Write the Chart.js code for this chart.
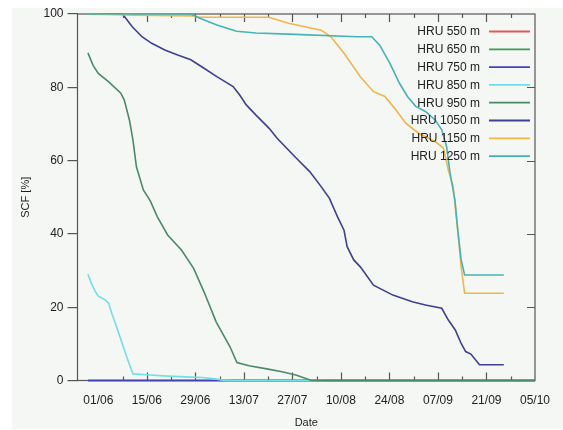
<!DOCTYPE html>
<html>
<head>
<meta charset="utf-8">
<script src="https://cdn.jsdelivr.net/npm/chart.js@4.4.1/dist/chart.umd.min.js"></script>
<style>
  html, body { margin: 0; padding: 0; background: #ffffff; }
  #wrap { width: 563px; height: 430px; position: relative; }
</style>
</head>
<body>
<div id="wrap"><canvas id="c" width="563" height="430"></canvas></div>
<script>
// x values are days counted from 01/06
const tickDays   = [0, 14, 28, 42, 56, 70, 84, 98, 112, 126];
const tickLabels = ['01/06', '15/06', '29/06', '13/07', '27/07', '10/08', '24/08', '07/09', '21/09', '05/10'];
const yTicks = [0, 20, 40, 60, 80, 100];

const seriesNames = ['HRU 550 m', 'HRU 650 m', 'HRU 750 m', 'HRU 850 m', 'HRU 950 m', 'HRU 1050 m', 'HRU 1150 m', 'HRU 1250 m'];

const zeroDays = [-3, 126];
const hru550 = [0, 0];
const hru650 = [0, 0];
const hru750 = [0, 0];

const hru850Days = [-3, -2, -1, 0, 1, 2, 3, 4, 5, 6, 7, 8, 9, 10, 12, 15, 20, 25, 30, 33, 36, 38, 65];
const hru850     = [29, 26.5, 24.5, 23, 22.5, 22, 21, 18, 15.4, 12.6, 9.8, 7, 4.3, 1.8, 1.7, 1.5, 1.2, 1.0, 0.8, 0.5, 0.1, 0, 0];

const hru950Days = [-3, -1.5, 0, 3, 6.5, 7.5, 9, 10, 11, 13, 15, 17, 20, 24, 27.5, 30.5, 34, 38, 40, 43.5, 49, 53, 57, 61.5, 126];
const hru950     = [89.4, 86, 83.8, 81.5, 78.4, 76.5, 71, 65.6, 58.3, 52, 49, 44.7, 39.7, 35.6, 30.6, 24.2, 16, 9.2, 4.9, 4.0, 3.1, 2.4, 1.5, 0, 0];

const hru1050Days = [-3, 7, 9.8, 12.6, 15.4, 19.2, 22.9, 26.7, 30.5, 34.2, 38.9, 40.8, 42.7, 45.5, 49.3, 51.6, 56.8, 61, 64.3, 66.7, 69, 70.9, 71.8, 73.7, 75.6, 79.4, 85, 90.6, 94.4, 99.1, 101, 103, 104.7, 106, 107.5, 110, 117];
const hru1050     = [100, 100, 96.5, 93.8, 92, 90.2, 88.8, 87.5, 85.2, 82.9, 80.2, 77.9, 75.2, 72.4, 68.8, 66.1, 61, 57, 52.9, 49.7, 44.7, 41, 36.5, 32.9, 31, 26, 23.3, 21.5, 20.6, 19.7, 16.5, 13.8, 10.1, 7.9, 7.2, 4.3, 4.3];

const hru1150Days = [-3, 10.7, 27.6, 28.5, 49.2, 54.9, 64.3, 67.1, 70.9, 75.6, 79.4, 82.7, 85.9, 88.7, 92.5, 97.2, 99.6, 101, 102.4, 103.8, 104.7, 105.7, 117];
const hru1150     = [100, 99.7, 99.5, 99.1, 99.1, 97.5, 95.6, 93.8, 89.3, 82.9, 78.8, 77.5, 73.8, 70.2, 67.4, 65.2, 63.4, 57.4, 52.9, 40.2, 31, 23.8, 23.8];

const hru1250Days = [-3, 26.7, 29.5, 34.2, 39.9, 45.5, 54.9, 74.6, 78.9, 81.2, 84.1, 86.9, 89.2, 91.6, 94.4, 97.2, 99.1, 100.5, 101.5, 102.9, 103.8, 104.7, 105.7, 117];
const hru1250     = [100, 100, 98.8, 97, 95.3, 94.8, 94.5, 93.8, 93.8, 91.5, 86.6, 81.1, 77.5, 74.8, 73.4, 71.1, 68.4, 63.8, 56.6, 49.2, 40.2, 32.9, 28.8, 28.8];

const colors = ['#e05a5a', '#3f9a55', '#4343b8', '#6ee0e6', '#4a8a6a', '#3f3f95', '#f2b548', '#45b3b5'];

function pts(days, vals) { return days.map((d, i) => ({ x: d, y: vals[i] })); }

const seriesData = [
  pts(zeroDays, hru550), pts(zeroDays, hru650), pts(zeroDays, hru750),
  pts(hru850Days, hru850), pts(hru950Days, hru950), pts(hru1050Days, hru1050),
  pts(hru1150Days, hru1150), pts(hru1250Days, hru1250)
];

const datasets = seriesNames.map((name, i) => ({
  label: name,
  data: seriesData[i],
  borderColor: colors[i],
  backgroundColor: colors[i],
  borderWidth: 1.6,
  pointRadius: 0,
  tension: 0,
  fill: false,
  clip: 3,
  order: seriesNames.length - i
}));

const FONT = 'Liberation Sans, Arial, sans-serif';
const AXIS = '#555555';

const framePlugin = {
  id: 'frame',
  beforeDraw(chart) {
    const ctx = chart.ctx;
    ctx.save();
    ctx.fillStyle = '#f4f7f4';
    ctx.fillRect(12, 8, 551, 421);
    ctx.restore();
  },
  beforeDatasetsDraw(chart) {
    const { ctx, chartArea: a, scales: { x, y } } = chart;
    ctx.save();
    ctx.strokeStyle = AXIS;
    ctx.lineWidth = 1.2;
    ctx.strokeRect(a.left, a.top, a.right - a.left, a.bottom - a.top);
    ctx.beginPath();
    // x ticks, inward, top and bottom
    for (let d = 7; d < 126; d += 7) {
      const px = Math.round(x.getPixelForValue(d)) + 0.5;
      const major = (d % 14 === 0);
      const len = major ? 8 : 4;
      ctx.moveTo(px, a.bottom); ctx.lineTo(px, a.bottom - len);
      ctx.moveTo(px, a.top); ctx.lineTo(px, a.top + len);
    }
    // right y ticks, inward
    yTicks.slice(1, -1).forEach(v => {
      const py = Math.round(y.getPixelForValue(v)) + 0.5;
      ctx.moveTo(a.right, py); ctx.lineTo(a.right - 8, py);
    });
    ctx.stroke();
    ctx.restore();
  },
  afterDraw(chart) {
    const ctx = chart.ctx;
    ctx.save();
    ctx.font = '12px ' + FONT;
    ctx.textAlign = 'right';
    ctx.textBaseline = 'middle';
    chart.data.datasets.forEach((ds, i) => {
      const yy = 31.5 + i * 17.8;
      ctx.fillStyle = '#222222';
      ctx.fillText(ds.label, 480, yy + 0.5);
      ctx.strokeStyle = ds.borderColor;
      ctx.lineWidth = 1.8;
      ctx.beginPath();
      ctx.moveTo(489, yy);
      ctx.lineTo(530, yy);
      ctx.stroke();
    });
    ctx.restore();
  }
};

new Chart(document.getElementById('c'), {
  type: 'line',
  data: { datasets },
  plugins: [framePlugin],
  options: {
    responsive: false,
    animation: false,
    devicePixelRatio: 1,
    layout: { padding: { left: 12, right: 17, top: 14, bottom: 0 } },
    plugins: { legend: { display: false }, tooltip: { enabled: false } },
    scales: {
      x: {
        type: 'linear',
        min: -6,
        max: 126,
        afterBuildTicks(scale) { scale.ticks = tickDays.map(v => ({ value: v })); },
        afterFit(scale) { scale.height = 49.5; },
        ticks: {
          autoSkip: false,
          maxRotation: 0,
          padding: 13,
          color: '#222222',
          font: { family: FONT, size: 12 },
          callback: (v, i) => tickLabels[i]
        },
        grid: { display: true, drawOnChartArea: false, drawTicks: false, color: 'rgba(0,0,0,0)' },
        border: { display: false },
        title: {
          display: true,
          text: 'Date',
          color: '#222222',
          font: { family: FONT, size: 11 },
          padding: { top: 0, bottom: 0 }
        }
      },
      y: {
        min: 0,
        max: 100,
        afterBuildTicks(scale) { scale.ticks = yTicks.map(v => ({ value: v })); },
        afterFit(scale) { scale.width = 65.5; },
        ticks: {
          padding: 4,
          color: '#222222',
          font: { family: FONT, size: 12 }
        },
        grid: { drawOnChartArea: false, drawTicks: true, tickLength: 10, color: AXIS, lineWidth: 1.2 },
        border: { display: false },
        title: {
          display: true,
          text: 'SCF [%]',
          color: '#222222',
          font: { family: FONT, size: 11 },
          padding: { top: 7, bottom: 0 }
        }
      }
    }
  }
});
</script>
</body>
</html>
